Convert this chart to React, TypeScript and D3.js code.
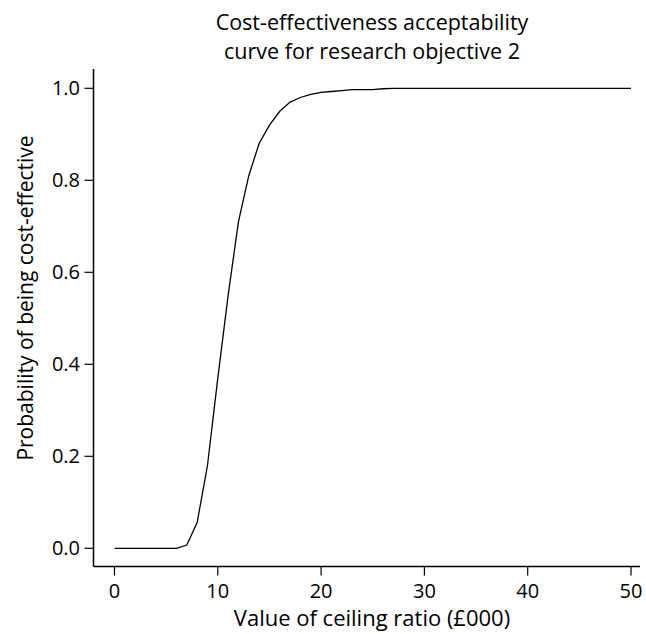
import React from "react";
import * as d3 from "d3";

const ceiling = d3.range(0, 51);
const probValues = [
  0, 0, 0, 0, 0, 0, 0, 0.007, 0.056, 0.18, 0.37, 0.55, 0.71, 0.81, 0.88, 0.92, 0.95, 0.97, 0.98, 0.987,
  0.991, 0.993, 0.995, 0.997, 0.997, 0.997, 0.999, 1, 1, 1, 1, 1, 1, 1, 1, 1, 1, 1, 1, 1,
  1, 1, 1, 1, 1, 1, 1, 1, 1, 1, 1,
];
const xTicks = [0, 10, 20, 30, 40, 50];
const yTicks = [0, 0.2, 0.4, 0.6, 0.8, 1.0];
const titleLines = ["Cost-effectiveness acceptability", "curve for research objective 2"];
const xLabel = "Value of ceiling ratio (£000)";
const yLabel = "Probability of being cost-effective";

export default function App() {
  const W = 646, H = 634;
  const x = d3.scaleLinear().domain([0, 50]).range([114.5, 631]);
  const y = d3.scaleLinear().domain([0, 1]).range([548.3, 88.3]);
  const axisX = 93.5;
  const axisY = 566.5;
  const line = d3.line<number>().x((_, i) => x(ceiling[i])).y((d) => y(d));
  const font = "'Open Sans', 'DejaVu Sans', sans-serif";
  return (
    <svg width={W} height={H} style={{ position: "absolute", left: 0, top: 0, background: "#fff" }} fontFamily={font}>
      {titleLines.map((t, i) => (
        <text key={i} x={372} y={30 + i * 29} textAnchor="middle" fontSize={21.5} fill="#000">{t}</text>
      ))}
      <line x1={axisX} x2={axisX} y1={69} y2={axisY} stroke="#000" strokeWidth={1.5} />
      <line x1={axisX} x2={640} y1={axisY} y2={axisY} stroke="#000" strokeWidth={1.5} />
      {yTicks.map((t) => (
        <g key={t}>
          <line x1={axisX - 9} x2={axisX} y1={y(t)} y2={y(t)} stroke="#000" strokeWidth={1.2} />
          <text x={80} y={y(t) + 7} textAnchor="end" fontSize={20}>{t.toFixed(1)}</text>
        </g>
      ))}
      {xTicks.map((t) => (
        <g key={t}>
          <line x1={x(t)} x2={x(t)} y1={axisY} y2={axisY + 9} stroke="#000" strokeWidth={1.2} />
          <text x={x(t)} y={598} textAnchor="middle" fontSize={20}>{t}</text>
        </g>
      ))}
      <text x={372} y={626} textAnchor="middle" fontSize={22}>{xLabel}</text>
      <text transform={`translate(33,298) rotate(-90)`} textAnchor="middle" fontSize={21}>{yLabel}</text>
      <path d={line(probValues) || ""} fill="none" stroke="#000" strokeWidth={1.3} />
    </svg>
  );
}
